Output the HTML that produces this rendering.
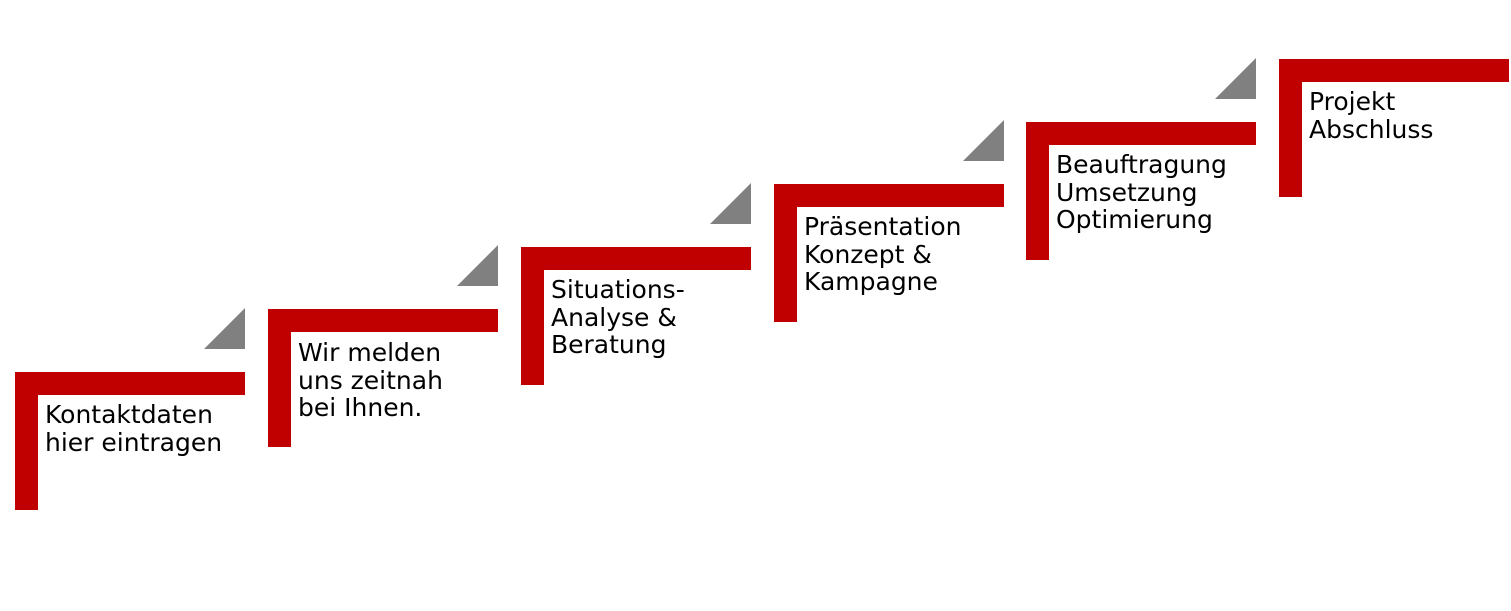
<!DOCTYPE html>
<html><head><meta charset="utf-8"><style>
body{margin:0;width:1511px;height:611px;background:#fff;position:relative;overflow:hidden;font-family:"DejaVu Sans","Liberation Sans",sans-serif}
.h,.v{position:absolute;background:#c00000}
.t{position:absolute;font-size:25px;line-height:27.5px;color:#000;white-space:nowrap}
svg{position:absolute;left:0;top:0}
</style></head><body>
<svg width="1511" height="611">
<g fill="#808080">
<polygon points="204,349 245,349 245,308"/>
<polygon points="457,286 498,286 498,245"/>
<polygon points="710,224 751,224 751,183"/>
<polygon points="963,161 1004,161 1004,120"/>
<polygon points="1215,99 1256,99 1256,58"/>
</g>
</svg>
<div class="h" style="left:15px;top:372px;width:230px;height:23px"></div><div class="v" style="left:15px;top:372px;width:23px;height:138px"></div>
<div class="t" style="left:45px;top:401px">Kontaktdaten<br>hier eintragen</div>
<div class="h" style="left:268px;top:309px;width:230px;height:23px"></div><div class="v" style="left:268px;top:309px;width:23px;height:138px"></div>
<div class="t" style="left:298px;top:339px">Wir melden<br>uns zeitnah<br>bei Ihnen.</div>
<div class="h" style="left:521px;top:247px;width:230px;height:23px"></div><div class="v" style="left:521px;top:247px;width:23px;height:138px"></div>
<div class="t" style="left:551px;top:276px">Situations-<br>Analyse &amp;<br>Beratung</div>
<div class="h" style="left:774px;top:184px;width:230px;height:23px"></div><div class="v" style="left:774px;top:184px;width:23px;height:138px"></div>
<div class="t" style="left:804px;top:213px">Präsentation<br>Konzept &amp;<br>Kampagne</div>
<div class="h" style="left:1026px;top:122px;width:230px;height:23px"></div><div class="v" style="left:1026px;top:122px;width:23px;height:138px"></div>
<div class="t" style="left:1056px;top:151px">Beauftragung<br>Umsetzung<br>Optimierung</div>
<div class="h" style="left:1279px;top:59px;width:230px;height:23px"></div><div class="v" style="left:1279px;top:59px;width:23px;height:138px"></div>
<div class="t" style="left:1309px;top:88px">Projekt<br>Abschluss</div>
</body></html>
